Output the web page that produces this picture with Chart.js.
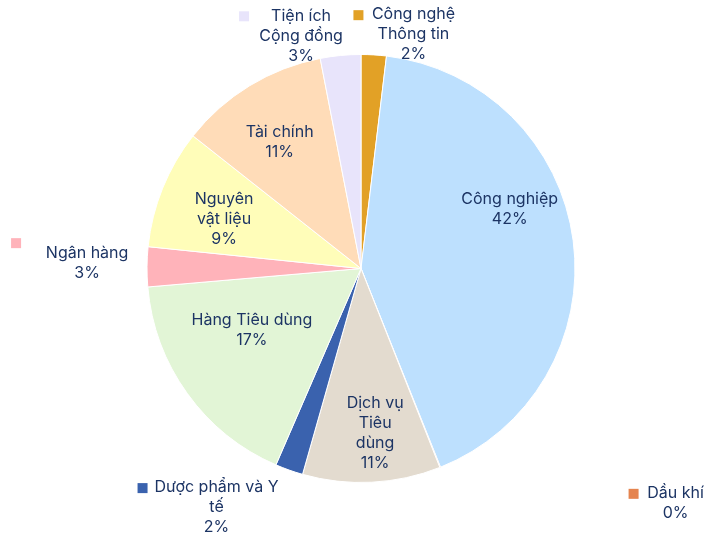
<!DOCTYPE html>
<html lang="vi">
<head>
<meta charset="UTF-8">
<title>Phân bổ theo ngành</title>
<script src="https://cdn.jsdelivr.net/npm/chart.js"></script>
<style>
  html, body { margin: 0; padding: 0; background: #ffffff; }
  #wrap { width: 722px; height: 534px; }
</style>
</head>
<body>
<div id="wrap"><canvas id="pieChart" width="722" height="534"></canvas></div>
<script>
// sectors, clockwise from 12 o'clock
const sectors = [
  'Công nghệ Thông tin', 'Công nghiệp', 'Dầu khí', 'Dịch vụ Tiêu dùng',
  'Dược phẩm và Y tế', 'Hàng Tiêu dùng', 'Ngân hàng', 'Nguyên vật liệu',
  'Tài chính', 'Tiện ích Cộng đồng'
];
const shares = [1.9, 42.0, 0.05, 10.4, 2.1, 17.1, 3.0, 9.0, 11.3, 3.05];
const percentLabels = ['2%', '42%', '0%', '11%', '2%', '17%', '3%', '9%', '11%', '3%'];
// how each label breaks into lines
const labelLines = [
  ['Công nghệ', 'Thông tin'], ['Công nghiệp'], ['Dầu khí'], ['Dịch vụ', 'Tiêu', 'dùng'],
  ['Dược phẩm và Y', 'tế'], ['Hàng Tiêu dùng'], ['Ngân hàng'], ['Nguyên', 'vật liệu'],
  ['Tài chính'], ['Tiện ích', 'Cộng đồng']
];
const sliceColors = [
  '#e2a126', '#bde0fe', '#e5844f', '#e3dbcf', '#3a62ae',
  '#e2f5d6', '#ffb3ba', '#fffdb9', '#ffdcb8', '#e8e4fb'
];

// label placement relative to pie centre, in radius units; outside labels get a marker square
const labelPos = [
  { x: 0.245, y: -1.095, mark: [-55, -19] },
  { x: 0.695, y: -0.275 },
  { x: 1.47, y: 1.095, mark: [-42, -9] },
  { x: 0.066, y: 0.77 },
  { x: -0.675, y: 1.115, mark: [-74, -19] },
  { x: -0.51, y: 0.29 },
  { x: -1.28, y: -0.025, mark: [-71, -20] },
  { x: -0.64, y: -0.23 },
  { x: -0.38, y: -0.59 },
  { x: -0.28, y: -1.085, mark: [-57, -20] }
];

const sliceLabels = {
  id: 'sliceLabels',
  afterDraw(chart) {
    const ctx = chart.ctx;
    const arc = chart.getDatasetMeta(0).data[0];
    const cx = arc.x, cy = arc.y, r = arc.outerRadius;
    const lh = 20;
    ctx.save();
    ctx.font = '16px Inter, "Noto Sans", sans-serif';
    ctx.textAlign = 'center';
    ctx.textBaseline = 'middle';
    labelPos.forEach((p, i) => {
      const lines = labelLines[i].concat([percentLabels[i]]);
      const x = cx + p.x * r;
      const y = cy + p.y * r;
      const top = y - (lines.length - 1) * lh / 2;
      ctx.fillStyle = '#1c3464';
      lines.forEach((t, k) => ctx.fillText(t, x, top + k * lh));
      if (p.mark) {
        ctx.fillStyle = sliceColors[i];
        ctx.fillRect(x + p.mark[0] - 5, y + p.mark[1] - 5, 10, 10);
      }
    });
    ctx.restore();
  }
};

new Chart(document.getElementById('pieChart'), {
  type: 'pie',
  data: {
    labels: sectors,
    datasets: [{
      data: shares,
      backgroundColor: sliceColors,
      borderColor: '#ffffff',
      borderWidth: 1
    }]
  },
  options: {
    responsive: false,
    animation: false,
    layout: { padding: { top: 54, bottom: 51, left: 0, right: 0 } },
    plugins: {
      legend: { display: false },
      tooltip: { enabled: false }
    }
  },
  plugins: [sliceLabels]
});
</script>
</body>
</html>
